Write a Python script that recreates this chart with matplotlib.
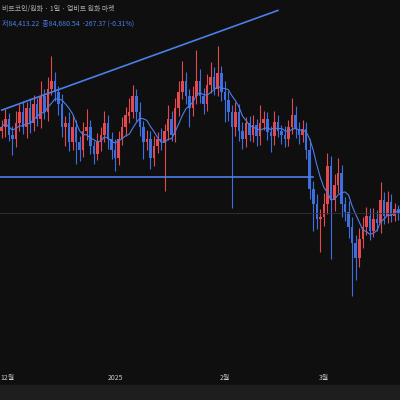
import matplotlib
matplotlib.use("Agg")
import matplotlib.pyplot as plt
import numpy as np
import pandas as pd

plt.rcParams['font.family'] = ['Noto Sans CJK KR', 'DejaVu Sans']

closes = [95.5,96.5,94.5,94,96,97.5,95.5,98,96,98.5,
          96.5,99.5,97.5,100.5,101.5,100,98.5,95.5,96,93.5,
          95.5,93.5,92.5,95,95.5,93,92,93.5,94.5,96,
          94,92.5,91.5,94,95.5,97,97.5,99.5,97.5,95.5,
          93.5,94,91.5,93,94,93.5,95,96.5,94.5,98,
          100,101.5,99.5,98,99.5,101.5,99.5,98.5,101,102,
          100.5,102.5,100,99,97.5,95.5,97.5,95,94,96,
          94.5,95.8,94.3,96,96.5,94.8,94.3,96.1,95,94.5,
          94,95.5,97,95.2,94.5,95.3,92.5,87.5,85.5,83.5,
          83.8,85.5,90.5,86,88,89.5,85.5,84.5,82.5,80.5,
          78.5,81,82.5,84,82,83.5,83,86,84,85.8,
          84,84.8,84.3]
wick_up = [0.6,0.8,0.5,0.7,1.0,0.6,0.9,0.5,0.8,0.7,
           0.5,1.2,0.6,0.9,2.0,0.7,0.5,0.8,0.6,0.9,
           1.0,0.6,0.5,0.7,1.5,0.6,0.4,0.8,0.6,1.0,
           0.7,0.5,0.9,0.6,0.8,0.7,1.1,0.9,0.6,0.8,
           0.5,0.7,0.6,0.8,0.5,0.9,0.6,1.2,0.7,0.8,
           0.9,1.6,0.7,0.6,0.8,2.5,1.0,0.7,0.9,1.2,
           0.8,2.2,0.6,0.9,0.7,0.5,0.8,0.6,0.7,0.5,
           0.6,0.8,0.5,1.5,0.7,0.6,0.5,0.9,0.6,0.5,
           0.7,0.6,1.4,0.8,0.6,0.7,0.5,0.9,0.6,0.8,
           0.7,0.9,1.0,0.8,0.9,1.2,0.7,0.6,0.9,0.8,
           0.6,0.9,0.8,0.7,0.6,0.9,0.8,1.5,0.7,0.9,
           0.6,0.5,0.4]
wick_dn = [0.7,0.9,0.6,1.5,0.8,0.7,0.6,1.0,0.9,0.7,
           0.6,0.8,0.7,0.9,0.6,0.8,1.0,0.9,1.8,0.8,
           0.7,2.0,1.0,0.6,0.8,0.7,0.9,0.6,0.8,0.7,
           1.0,0.8,1.2,0.7,0.6,0.8,0.7,0.6,0.9,0.8,
           1.5,0.7,1.0,0.8,0.6,0.7,4.5,0.8,0.6,0.7,
           0.8,0.6,0.7,1.8,0.8,0.7,0.6,0.9,0.7,0.8,
           0.6,0.7,0.8,2.0,0.9,7.5,0.8,0.9,1.0,0.8,
           0.6,0.7,0.9,0.8,0.6,0.7,1.5,0.8,0.6,0.9,
           0.8,0.7,0.6,0.8,0.9,0.7,0.8,1.0,2.5,0.9,
           3.0,0.8,0.9,5.5,1.0,0.8,1.2,0.9,1.0,5.0,
           2.0,0.8,0.9,0.7,0.8,0.6,0.7,0.9,0.8,0.7,
           0.6,0.5,0.6]
tick_pos = [1, 32, 63, 91]
tick_labels = ['12월', '2025', '2월', '3월']
trend_x = [0, 70.5]
trend_y = [97.7, 109.4]
support_x = [-1, 88]
support_y = [89.0, 89.0]

up_c = '#e5484d'
dn_c = '#3d6fe0'
bg = '#0f0f0f'

fig = plt.figure(figsize=(4, 4), dpi=100, facecolor=bg)
fig.add_artist(plt.Rectangle((0, 0), 1, 15/400, transform=fig.transFigure, color='#1e1e1e'))
ax = fig.add_axes([0, 15/400, 1, 385/400])
ax.set_facecolor(bg)
n = len(closes)
opens = [closes[0] - 0.5] + closes[:-1]
x = np.arange(n)
for i in x:
    o, c = opens[i], closes[i]
    col = up_c if c >= o else dn_c
    hi = max(o, c) + 1.6 * wick_up[i]
    lo = min(o, c) - 1.4 * wick_dn[i]
    ax.vlines(i, lo, hi, color=col, lw=0.8)
    ax.bar(i, max(abs(c - o), 0.15), bottom=min(o, c), width=0.72, color=col)
ma = pd.Series(closes).rolling(7, min_periods=1).mean()
ax.plot(x, ma, color='#4a7fe8', lw=0.8)
ax.plot(trend_x + [78], trend_y + [trend_y[0] + (trend_y[1]-trend_y[0])/70.5*78], color='#4a7fe8', lw=1.2)
ax.plot(support_x, support_y, color='#4a7fe8', lw=1.2)
ax.axhline(84.3, color='#333333', lw=0.6)
ax.set_xlim(-0.5, 112.5)
ax.set_ylim(62, 112)
ax.axis('off')
for p, l in zip(tick_pos, tick_labels):
    ha = 'left' if p < 5 else 'center'
    xp = 0.002 if p < 5 else (p + 0.5) / 113
    fig.text(xp, 22/400, l, color='#cccccc', fontsize=5, ha=ha, va='center')
fig.text(0.005, 391/400, '비트코인/원화 · 1일 · 업비트 원화 마켓', color='#aaaaaa', fontsize=5, va='center')
fig.text(0.005, 376/400, '저84,413.22  종84,680.54  -267.37 (-0.31%)', color='#4a7fe8', fontsize=5, va='center')
fig.savefig('out.png', dpi=100, facecolor=bg)
